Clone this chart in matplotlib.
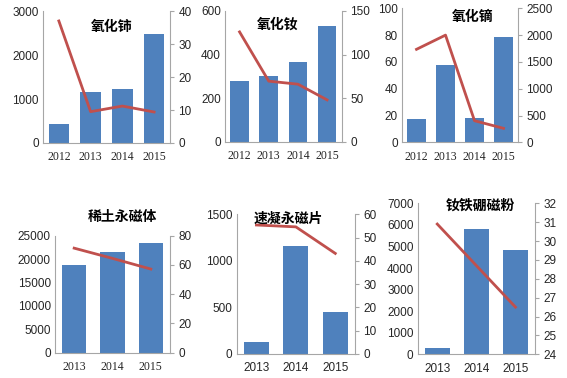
import numpy as np
import matplotlib
matplotlib.use('Agg')
import matplotlib.pyplot as plt

plt.rcParams['font.family'] = ['Liberation Sans', 'DejaVu Sans']

# ---------------- data ----------------
years_top = ['2012', '2013', '2014', '2015']
years_bot = ['2013', '2014', '2015']

ceo2_bar = [430, 1150, 1230, 2470]
ceo2_line = [37, 9.5, 11.2, 9.4]

nd2o3_bar = [278, 303, 366, 531]
nd2o3_line = [126, 69.5, 66, 48]

dy2o3_bar = [17.2, 57.7, 17.9, 78.8]
dy2o3_line = [1735, 2000, 403, 261]

magnet_bar = [18850, 21550, 23350]
magnet_line = [71.5, 64.5, 57.2]

strip_bar = [126, 1163, 454]
strip_line = [55.4, 54.6, 43.2]

powder_bar = [306, 5795, 4821]
powder_line = [30.9, 28.7, 26.5]

BLUE = '#4f81bd'
RED = '#c0504d'
GRAY = '#a6a6a6'
FS = 8.5

fig = plt.figure(figsize=(5.67, 3.78), dpi=100)


def panel(rect, cats, bars, line, ylim1, yt1, ylim2, yt2, title, tpos, xfont):
    ax = fig.add_axes(rect)
    x = np.arange(len(cats))
    ax.bar(x, bars, width=0.64, color=BLUE, zorder=2)
    ax.set_xlim(-0.5, len(cats) - 0.5)
    ax.set_ylim(*ylim1)
    ax.set_yticks(yt1)
    ax.set_xticks(x)
    ax.set_xticklabels(cats, family=xfont, fontsize=FS)
    ax.tick_params(axis='both', length=0, labelsize=FS, colors='#262626', pad=3)
    ax.tick_params(axis='x', pad=6)
    for s in ['top', 'right']:
        ax.spines[s].set_visible(False)
    for s in ['left', 'bottom']:
        ax.spines[s].set_color(GRAY)
        ax.spines[s].set_linewidth(0.8)

    ax2 = ax.twinx()
    ax2.plot(x, line, color=RED, lw=2.0, zorder=3)
    ax2.set_ylim(*ylim2)
    ax2.set_yticks(yt2)
    ax2.tick_params(axis='y', length=3, width=0.8, color=GRAY,
                    labelsize=FS, labelcolor='#262626', pad=3)
    for s in ['top', 'left', 'bottom']:
        ax2.spines[s].set_visible(False)
    ax2.spines['right'].set_color(GRAY)
    ax2.spines['right'].set_linewidth(0.8)

    fig.text(tpos[0] / 567, 1 - tpos[1] / 378, title, ha='center', va='center',
             fontsize=10, fontweight='bold',
             family=['Noto Sans CJK SC', 'DejaVu Sans'])
    return ax, ax2


panel([0.0758, 0.6217, 0.224, 0.349], years_top, ceo2_bar, ceo2_line,
      (0, 3000), [0, 1000, 2000, 3000], (0, 40), [0, 10, 20, 30, 40],
      '氧化铈', (112, 27), 'Liberation Serif')

panel([0.3968, 0.6251, 0.2058, 0.3458], years_top, nd2o3_bar, nd2o3_line,
      (0, 600), [0, 200, 400, 600], (0, 150), [0, 50, 100, 150],
      '氧化钕', (278, 25), 'Liberation Serif')

panel([0.709, 0.6235, 0.2046, 0.3545], years_top, dy2o3_bar, dy2o3_line,
      (0, 100), [0, 20, 40, 60, 80, 100], (0, 2500), [0, 500, 1000, 1500, 2000, 2500],
      '氧化镝', (473, 17), 'Liberation Serif')

panel([0.097, 0.0669, 0.2028, 0.3095], years_bot, magnet_bar, magnet_line,
      (0, 25000), [0, 5000, 10000, 15000, 20000, 25000], (0, 80), [0, 20, 40, 60, 80],
      '稀土永磁体', (122, 217), 'Liberation Serif')

panel([0.4175, 0.0635, 0.2086, 0.3696], years_bot, strip_bar, strip_line,
      (0, 1500), [0, 500, 1000, 1500], (0, 60), [0, 10, 20, 30, 40, 50, 60],
      '速凝永磁片', (288, 219), 'Liberation Sans')

panel([0.7367, 0.0627, 0.2069, 0.3995], years_bot, powder_bar, powder_line,
      (0, 7000), [0, 1000, 2000, 3000, 4000, 5000, 6000, 7000], (24, 32),
      [24, 25, 26, 27, 28, 29, 30, 31, 32],
      '钕铁硼磁粉', (480, 206), 'Liberation Sans')

fig.savefig('out.png', dpi=100)
